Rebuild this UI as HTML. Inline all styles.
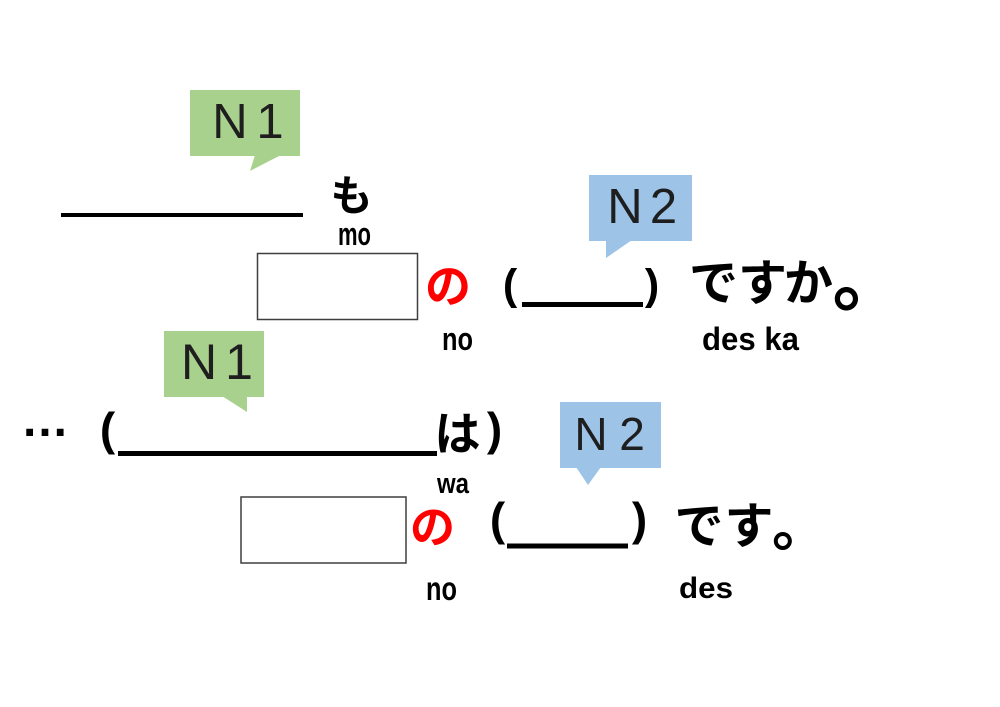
<!DOCTYPE html>
<html><head><meta charset="utf-8"><style>
html,body{margin:0;padding:0;background:#fff;}
svg{display:block;}
.jp{font-family:"Liberation Sans","Noto Sans CJK JP",sans-serif;font-weight:700;fill:#000;}
.ro{font-family:"Liberation Sans",sans-serif;font-weight:700;fill:#000;}
.cl{font-family:"Liberation Sans",sans-serif;font-weight:400;fill:#1e1e1e;}
</style></head><body>
<svg width="1000" height="707" viewBox="0 0 1000 707" xmlns="http://www.w3.org/2000/svg">
<rect width="1000" height="707" fill="#fff"/>

<!-- ===== Top section ===== -->
<!-- N1 callout -->
<rect x="190" y="90" width="110" height="66" fill="#a9d18e"/>
<polygon points="255,155 281,155 250,171" fill="#a9d18e"/>
<text class="cl" x="230" y="138" font-size="49" text-anchor="middle">N</text>
<text class="cl" x="270" y="138" font-size="49" text-anchor="middle">1</text>

<!-- blank line + も -->
<rect x="61" y="213" width="242" height="4" fill="#000"/>
<text class="jp" x="351.5" y="210.5" font-size="42" text-anchor="middle">も</text>
<text class="ro" x="338" y="245" font-size="32" textLength="33" lengthAdjust="spacingAndGlyphs">mo</text>

<!-- box + の -->
<rect x="257.5" y="253.5" width="160" height="66" fill="#fff" stroke="#3f3f3f" stroke-width="1.5"/>
<text class="jp" x="448" y="302.5" font-size="46" text-anchor="middle" style="fill:#ff0000">の</text>
<text class="ro" x="442" y="350" font-size="32" textLength="31" lengthAdjust="spacingAndGlyphs">no</text>

<!-- ( ____ ) -->
<text class="ro" x="510" y="299" font-size="43" text-anchor="middle">(</text>
<rect x="522" y="302" width="121" height="5" fill="#000"/>
<text class="ro" x="652" y="299" font-size="43" text-anchor="middle">)</text>

<!-- ですか。 -->
<text class="jp" x="713.5" y="300" font-size="49" text-anchor="middle">で</text>
<text class="jp" x="762.5" y="300" font-size="49" text-anchor="middle">す</text>
<text class="jp" x="808.5" y="300" font-size="49" text-anchor="middle">か</text>
<text class="jp" x="832.5" y="305" font-size="72">。</text>
<text class="ro" x="702" y="350" font-size="32" textLength="97" lengthAdjust="spacingAndGlyphs">des ka</text>

<!-- N2 callout -->
<rect x="589" y="175" width="103" height="66" fill="#9dc3e6"/>
<polygon points="606,240 606,258 632,240" fill="#9dc3e6"/>
<text class="cl" x="625" y="223" font-size="49" text-anchor="middle">N</text>
<text class="cl" x="663.5" y="223" font-size="49" text-anchor="middle">2</text>

<!-- ===== Bottom section ===== -->
<!-- N1 callout -->
<rect x="164" y="331" width="100" height="66" fill="#a9d18e"/>
<polygon points="222,396 247,396 247,412" fill="#a9d18e"/>
<text class="cl" x="199" y="379" font-size="50" text-anchor="middle">N</text>
<text class="cl" x="239" y="379" font-size="50" text-anchor="middle">1</text>

<!-- … ( ______ は ) -->
<text class="ro" x="45" y="436" font-size="48" text-anchor="middle">…</text>
<text class="ro" x="107.5" y="445" font-size="46" text-anchor="middle">(</text>
<rect x="118" y="451" width="319" height="5" fill="#000"/>
<text class="jp" x="457.5" y="450" font-size="46" text-anchor="middle">は</text>
<text class="ro" x="494.5" y="445" font-size="46" text-anchor="middle">)</text>
<text class="ro" x="437" y="493" font-size="29" textLength="32" lengthAdjust="spacingAndGlyphs">wa</text>

<!-- N2 callout -->
<rect x="560" y="402" width="101" height="66" fill="#9dc3e6"/>
<polygon points="576,467 601,467 588,485" fill="#9dc3e6"/>
<text class="cl" x="591" y="450" font-size="46" text-anchor="middle">N</text>
<text class="cl" x="632" y="450" font-size="46" text-anchor="middle">2</text>

<!-- box + の -->
<rect x="241" y="497" width="165" height="66" fill="#fff" stroke="#3f3f3f" stroke-width="1.5"/>
<text class="jp" x="432.5" y="543" font-size="45" text-anchor="middle" style="fill:#ff0000">の</text>
<text class="ro" x="426" y="600" font-size="33" textLength="31" lengthAdjust="spacingAndGlyphs">no</text>

<!-- ( ____ ) です。 -->
<text class="ro" x="497.5" y="535" font-size="46" text-anchor="middle">(</text>
<rect x="507" y="543.5" width="121" height="5" fill="#000"/>
<text class="ro" x="639.5" y="535" font-size="46" text-anchor="middle">)</text>
<text class="jp" x="699" y="543" font-size="49" text-anchor="middle">で</text>
<text class="jp" x="749" y="543" font-size="49" text-anchor="middle">す</text>
<text class="jp" x="772" y="546" font-size="56">。</text>
<text class="ro" x="679" y="598" font-size="30" textLength="54" lengthAdjust="spacingAndGlyphs">des</text>
</svg>
</body></html>
